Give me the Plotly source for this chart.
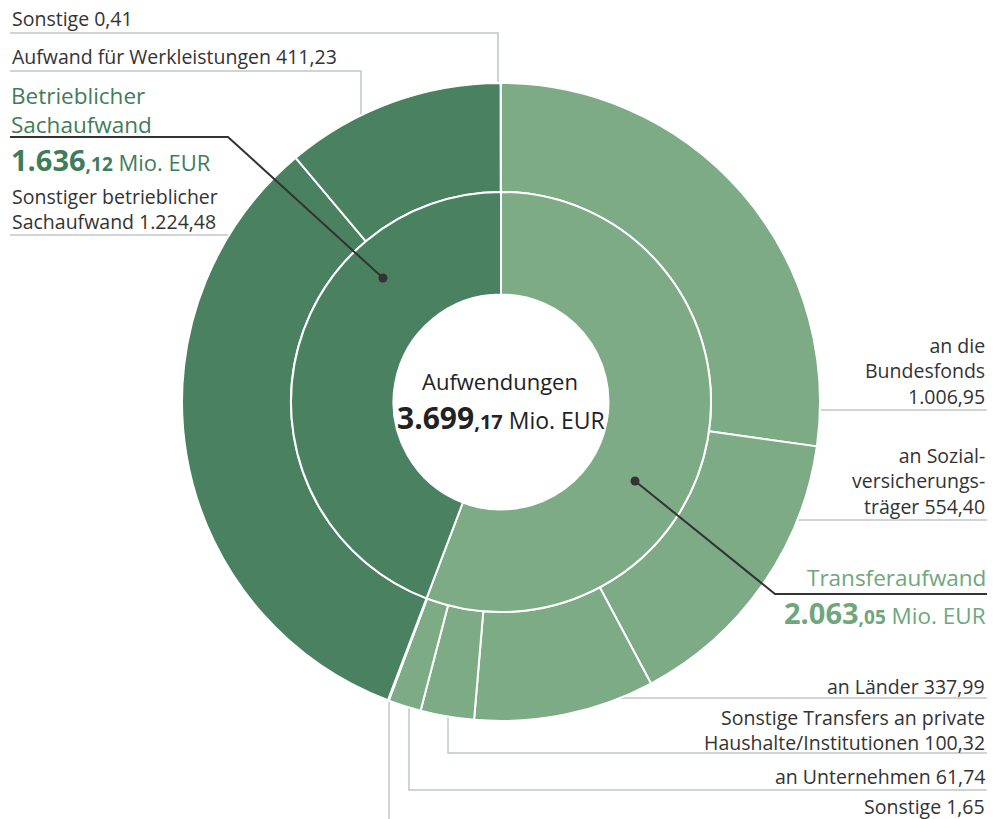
import math
import plotly.graph_objects as go

# ---------------- data ----------------
total_label = "Aufwendungen"
group_names = ["Transferaufwand", "Betrieblicher Sachaufwand"]
group_values = [2063.05, 1636.12]

item_names = [
    "an die Bundesfonds",
    "an Sozialversicherungsträger",
    "an Länder",
    "Sonstige Transfers an private Haushalte/Institutionen",
    "an Unternehmen",
    "Sonstige (Transfer)",
    "Sonstiger betrieblicher Sachaufwand",
    "Aufwand für Werkleistungen",
    "Sonstige (Sachaufwand)",
]
item_values = [1006.95, 554.40, 337.99, 100.32, 61.74, 1.65, 1224.48, 411.23, 0.41]
item_group = [0, 0, 0, 0, 0, 0, 1, 1, 1]

# ---------------- style ----------------
W, H = 997, 819
CX, CY = 501, 402          # pixel centre of the rings
R_OUT, R_MID, R_HOLE = 319, 210, 107.5
COL_DARK = "#4a8161"
COL_LIGHT = "#7dab86"
TXT = "#333333"
GREEN_DARK_TXT = "#3f7c5b"
GREEN_LIGHT_TXT = "#6fa67c"
GRAY = "#c0c6cb"
FONT = "Open Sans"
FS = 19.5


def fmt_de(v):
    s = f"{v:,.2f}"
    return s.replace(",", "X").replace(".", ",").replace("X", ".")


def big_num(v, size_int, size_dec, size_unit):
    s = fmt_de(v)
    i, d = s.split(",")
    return (f"<b><span style='font-size:{size_int}px'>{i}</span>"
            f"<span style='font-size:{size_dec}px'>,{d}</span></b>"
            f"<span style='font-size:{size_unit}px'> Mio. EUR</span>")


def px(x):
    return x / W


def py(y):
    return 1 - y / H


def dom(r):
    return dict(x=[px(CX - r), px(CX + r)], y=[py(CY + r), py(CY - r)])


total = sum(group_values)

fig = go.Figure()
fig.add_trace(go.Pie(
    labels=item_names, values=item_values, sort=False, direction="clockwise",
    rotation=0, hole=R_MID / R_OUT, domain=dom(R_OUT),
    marker=dict(colors=[COL_LIGHT if g == 0 else COL_DARK for g in item_group],
                line=dict(color="white", width=2)),
    textinfo="none", hoverinfo="label+value", showlegend=False,
))
fig.add_trace(go.Pie(
    labels=group_names, values=group_values, sort=False, direction="clockwise",
    rotation=0, hole=R_HOLE / R_MID, domain=dom(R_MID),
    marker=dict(colors=[COL_LIGHT, COL_DARK], line=dict(color="white", width=2)),
    textinfo="none", hoverinfo="label+value", showlegend=False,
))

shapes = []


def seg(points, color=GRAY, width=1.5):
    path = "M " + " L ".join(f"{px(x)},{py(y)}" for x, y in points)
    shapes.append(dict(type="path", path=path, xref="paper", yref="paper",
                       line=dict(color=color, width=width), layer="below"))


def ring_y_at_x(x, side):
    dx = x - CX
    dy = math.sqrt(max(R_OUT ** 2 - dx ** 2, 0))
    return CY - dy if side == "top" else CY + dy


def ring_x_at_y(y, side):
    dy = y - CY
    dx = math.sqrt(max(R_OUT ** 2 - dy ** 2, 0))
    return CX - dx if side == "left" else CX + dx


LX, RX = 10, 987

# left side leader lines
seg([(LX, 33), (498, 33), (498, ring_y_at_x(498, "top") + 2)])
seg([(LX, 71), (361, 71), (361, ring_y_at_x(361, "top") + 2)])
seg([(LX, 235), (ring_x_at_y(235, "left") + 2, 235)])
# right side leader lines
seg([(RX, 410), (ring_x_at_y(410, "right") - 2, 410)])
seg([(RX, 520), (ring_x_at_y(520, "right") - 2, 520)])
seg([(RX, 698), (ring_x_at_y(698, "right") - 6, 698)])
seg([(RX, 753), (448, 753), (448, ring_y_at_x(448, "bottom") - 2)])
seg([(RX, 790), (409, 790), (409, ring_y_at_x(409, "bottom") - 2)])
seg([(389, H + 2), (389, ring_y_at_x(389, "bottom") - 2)])

# group leader lines (dark, above the rings)
dot_sach = (383, 278)
dot_trans = (635, 481)
for pts in ([(LX, 137), (228, 137), dot_sach], [dot_trans, (775, 594), (RX, 594)]):
    path = "M " + " L ".join(f"{px(x)},{py(y)}" for x, y in pts)
    shapes.append(dict(type="path", path=path, xref="paper", yref="paper",
                       line=dict(color="#333333", width=2), layer="above"))
for (x, y) in (dot_sach, dot_trans):
    r = 4.5
    shapes.append(dict(type="circle", xref="paper", yref="paper",
                       x0=px(x - r), x1=px(x + r), y0=py(y + r), y1=py(y - r),
                       fillcolor="#333333", line=dict(width=0), layer="above"))

ann = []


def label(text, x, y, anchor, color=TXT, size=FS):
    ann.append(dict(text=text, x=px(x), y=py(y), xref="paper", yref="paper",
                    xanchor=anchor, yanchor="middle", showarrow=False,
                    align=anchor if anchor != "center" else "center",
                    font=dict(family=FONT, size=size, color=color)))


v = item_values
# left labels
label(f"Sonstige {fmt_de(v[8])}", LX, 18, "left")
label(f"Aufwand für Werkleistungen {fmt_de(v[7])}", LX, 57, "left")
label("Betrieblicher<br>Sachaufwand", LX - 1, 110.5, "left", GREEN_DARK_TXT, 22.5)
label(big_num(group_values[1], 29, 19, 22), LX - 1, 160, "left", GREEN_DARK_TXT, 22)
label(f"Sonstiger betrieblicher<br>Sachaufwand {fmt_de(v[6])}", LX, 209, "left")
# right labels
label(f"an die<br>Bundesfonds<br>{fmt_de(v[0])}", RX, 371.5, "right")
label(f"an Sozial-<br>versicherungs-<br>träger {fmt_de(v[1])}", RX, 481, "right")
label("Transferaufwand", RX + 1, 577, "right", GREEN_LIGHT_TXT, 22.5)
label(big_num(group_values[0], 29, 19, 22.5), RX + 1, 612, "right", GREEN_LIGHT_TXT, 22)
label(f"an Länder {fmt_de(v[2])}", RX, 686, "right")
label(f"Sonstige Transfers an private<br>Haushalte/Institutionen {fmt_de(v[3])}",
      RX, 729.5, "right")
label(f"an Unternehmen {fmt_de(v[4])}", RX, 776, "right")
label(f"Sonstige {fmt_de(v[5])}", RX, 806, "right")
# centre
label(total_label, 500, 381, "center", "#222222", 22)
label(big_num(total, 30, 20, 23), 501, 418, "center", "#222222", 23)

fig.update_layout(
    width=W, height=H, margin=dict(l=0, r=0, t=0, b=0),
    paper_bgcolor="white", plot_bgcolor="white",
    shapes=shapes, annotations=ann, showlegend=False,
    font=dict(family=FONT, color=TXT),
)
fig.write_html("out.html")
